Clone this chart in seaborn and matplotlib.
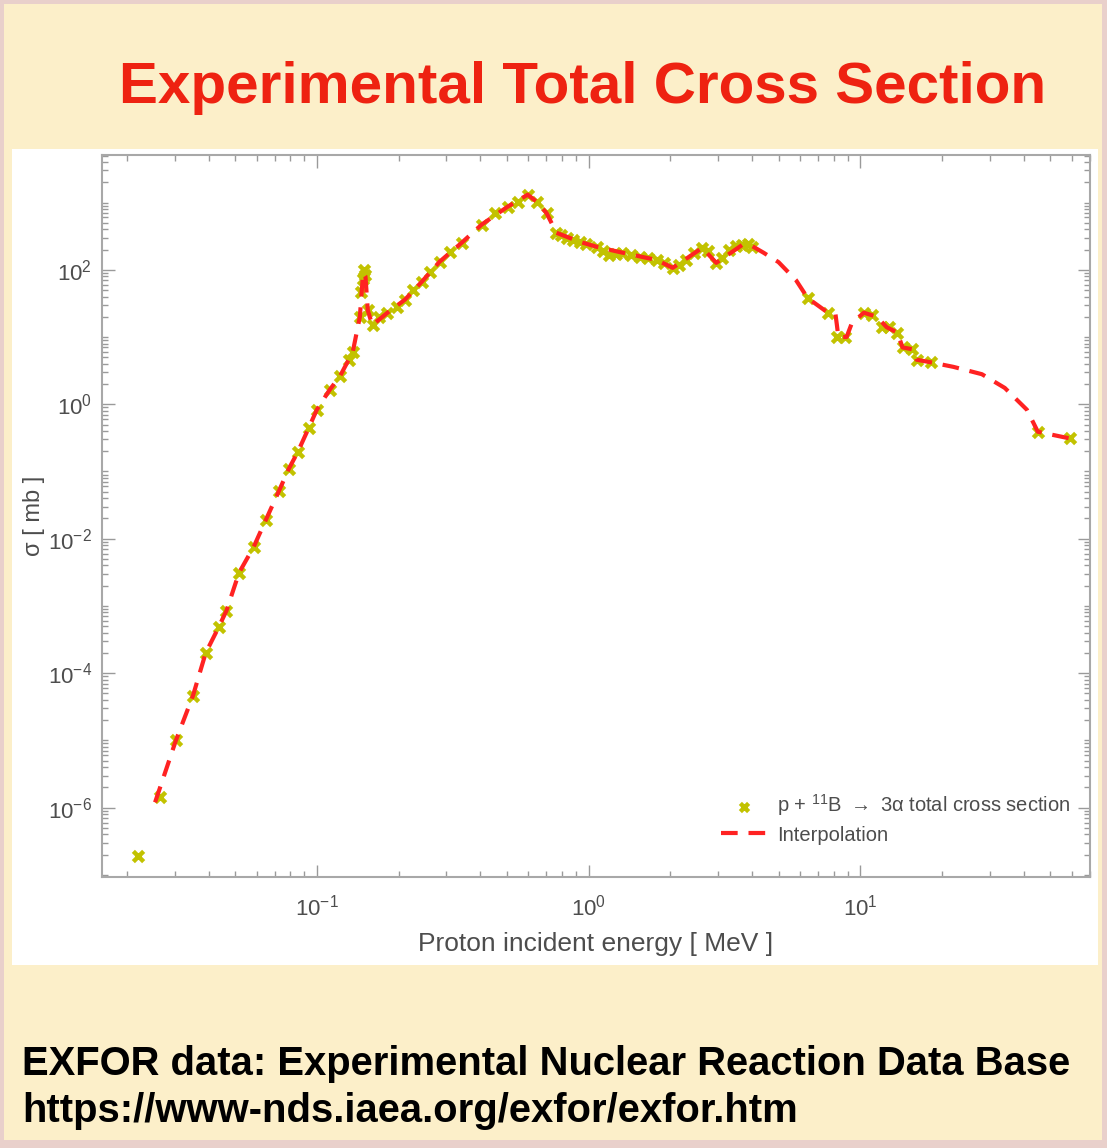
import numpy as np
import pandas as pd
import matplotlib
matplotlib.use("Agg")
import matplotlib.pyplot as plt
import matplotlib.ticker as mticker
from matplotlib.patches import Rectangle
import seaborn as sns

marker_energy = [0.022, 0.0265, 0.0303, 0.035, 0.039, 0.0436, 0.0465, 0.0517, 0.0586,
                 0.0649, 0.0725, 0.0789, 0.0851, 0.0935, 0.100, 0.1116, 0.1216, 0.131,
                 0.1356, 0.144, 0.146, 0.148, 0.149, 0.150, 0.154, 0.161, 0.170, 0.182,
                 0.197, 0.211, 0.225, 0.243, 0.260, 0.283, 0.308, 0.341, 0.404, 0.451,
                 0.504, 0.548, 0.597, 0.644, 0.701, 0.762, 0.79, 0.830, 0.88, 0.927,
                 0.98, 1.07, 1.13, 1.19, 1.26, 1.33, 1.43, 1.54, 1.65, 1.78, 1.9, 2.04,
                 2.15, 2.29, 2.45, 2.62, 2.75, 2.95, 3.1, 3.30, 3.5, 3.68, 3.85, 3.98,
                 6.4, 7.6, 8.2, 8.8, 10.3, 11.0, 12.0, 12.8, 13.7, 14.3, 15.5, 16.1,
                 18.2, 45.0, 59.0]
marker_sigma = [1.9e-7, 1.45e-6, 1.0e-5, 4.6e-5, 2.0e-4, 4.9e-4, 8.5e-4, 3.1e-3, 7.6e-3,
                0.019, 0.051, 0.11, 0.195, 0.45, 0.83, 1.65, 2.6, 4.6,
                6.0, 20, 46, 72, 100, 85, 25, 15, 20, 23,
                28, 36, 50, 66, 93, 132, 185, 252, 470, 700,
                870, 1030, 1310, 1030, 700, 355, 330, 300, 280, 260,
                240, 220, 190, 167, 172, 180, 165, 156, 150, 140, 125, 107,
                118, 140, 180, 212, 190, 127, 150, 198, 225, 235, 238, 220,
                38, 23, 10, 10, 23, 21, 14, 14, 11.6, 7.0, 6.6, 4.6,
                4.2, 0.39, 0.31]

# Interpolation curve knots
line_energy = [0.0254, 0.0303, 0.035, 0.039, 0.0436, 0.0465, 0.0517, 0.0586, 0.0649,
               0.0725, 0.0789, 0.0851, 0.0935, 0.100, 0.1116, 0.1216, 0.131, 0.1356,
               0.144, 0.148, 0.151, 0.154, 0.160, 0.182, 0.211, 0.243, 0.283, 0.341,
               0.404, 0.504, 0.597, 0.644, 0.70, 0.762, 0.93, 1.07, 1.33, 1.78, 2.04,
               2.62, 2.95, 3.68, 4.0, 4.4, 5.0, 5.8, 6.4, 7.6, 8.1, 8.2, 8.3, 8.9, 9.3,
               10.3, 11.5, 12.5, 13.7, 14.3, 15.5, 16.1, 18.2, 22.0, 28.0, 34.0, 41.0,
               45.0, 59.0]
line_sigma = [1.2e-6, 1.0e-5, 4.6e-5, 2.0e-4, 4.9e-4, 8.5e-4, 3.1e-3, 7.6e-3, 0.019,
              0.051, 0.11, 0.195, 0.45, 0.83, 1.65, 2.6, 4.6, 6.0,
              20, 90, 80, 25, 15, 23, 36, 66, 132, 252,
              470, 870, 1310, 1030, 700, 355, 260, 220, 180, 140, 107,
              212, 127, 235, 225, 180, 130, 70, 38, 23, 22, 15, 10, 10, 16,
              23, 20, 14, 11.6, 7.0, 6.6, 4.6, 4.2, 3.6, 2.8, 1.75, 0.83,
              0.39, 0.31]

x_ticks = [0.1, 1.0, 10.0]
y_ticks = [1e-6, 1e-4, 1e-2, 1.0, 1e2]

points = pd.DataFrame({"energy": marker_energy, "sigma": marker_sigma})
curve = pd.DataFrame({"energy": line_energy, "sigma": line_sigma})

sns.set_style("ticks")
plt.rcParams["font.family"] = ["Liberation Sans", "DejaVu Sans"]
plt.rcParams["mathtext.default"] = "regular"

W, H = 1107, 1148
fig = plt.figure(figsize=(W / 100, H / 100), dpi=100)
fig.patch.set_facecolor("#E9D0CB")
fig.patches.append(Rectangle((4 / W, 1 - 1140 / H), 1098 / W, 1136 / H,
                             transform=fig.transFigure, facecolor="#FCEFC9",
                             edgecolor="none", zorder=-3))
fig.patches.append(Rectangle((12 / W, 1 - 965 / H), 1086 / W, 816 / H,
                             transform=fig.transFigure, facecolor="white",
                             edgecolor="none", zorder=-2))

ax = fig.add_axes([102 / W, 1 - 877 / H, 988 / W, 722 / H])
ax.set_facecolor("white")

grey = "#4d4d4d"
sns.scatterplot(data=points, x="energy", y="sigma", ax=ax, marker="x", s=55,
                linewidth=3.2, color="#C2C200",
                label=r"p + $^{11}$B $\rightarrow$ 3$\alpha$ total cross section", zorder=2)
sns.lineplot(data=curve, x="energy", y="sigma", ax=ax, sort=False, estimator=None,
             color="#FF2222", linewidth=3, linestyle=(0, (4, 2.6)), label="Interpolation",
             zorder=3)

ax.set_xscale("log")
ax.set_yscale("log")
ax.set_xlim(0.0162, 70)
ax.set_ylim(9.3e-8, 5.1e3)

ax.xaxis.set_major_locator(mticker.FixedLocator(x_ticks))
ax.yaxis.set_major_locator(mticker.FixedLocator(y_ticks))
ax.xaxis.set_major_formatter(mticker.LogFormatterSciNotation())
ax.yaxis.set_major_formatter(mticker.LogFormatterSciNotation())
ax.xaxis.set_minor_locator(mticker.LogLocator(base=10, subs=np.arange(2, 10), numticks=30))
ax.yaxis.set_minor_locator(mticker.LogLocator(base=10, subs=np.arange(1, 10), numticks=30))
ax.yaxis.set_minor_formatter(mticker.NullFormatter())
ax.xaxis.set_minor_formatter(mticker.NullFormatter())

ax.tick_params(which="both", direction="in", top=True, right=True, color="#9a9a9a",
               labelcolor=grey, labelsize=16)
ax.tick_params(which="major", length=9, width=1)
ax.tick_params(which="minor", length=4, width=1)
ax.tick_params(axis="x", which="major", pad=13)
ax.tick_params(axis="y", which="major", pad=7)
for sp in ax.spines.values():
    sp.set_color("#a8a8a8")
    sp.set_linewidth(1.5)

ax.set_xlabel("Proton incident energy [ MeV ]", fontsize=19, color=grey, labelpad=8)
ax.set_ylabel("σ [ mb ]", fontsize=17, color=grey, labelpad=2)

ax.legend(loc="lower right", bbox_to_anchor=(0.98, 0.045), frameon=False,
          fontsize=14.5, handlelength=2.3, labelcolor=grey, markerscale=0.8,
          handletextpad=0.5, labelspacing=0.35, borderpad=0, borderaxespad=0)

fig.text(583 / W, 1 - 103 / H, "Experimental Total Cross Section", ha="center",
         va="baseline", fontsize=42, fontweight="bold", color="#EE2211")
fig.text(22 / W, 1 - 1075 / H, "EXFOR data: Experimental Nuclear Reaction Data Base",
         ha="left", va="baseline", fontsize=28.8, fontweight="bold", color="black")
fig.text(22 / W, 1 - 1122 / H, "https://www-nds.iaea.org/exfor/exfor.htm",
         ha="left", va="baseline", fontsize=28.8, fontweight="bold", color="black")

fig.savefig("out.png", dpi=100, facecolor=fig.get_facecolor())
